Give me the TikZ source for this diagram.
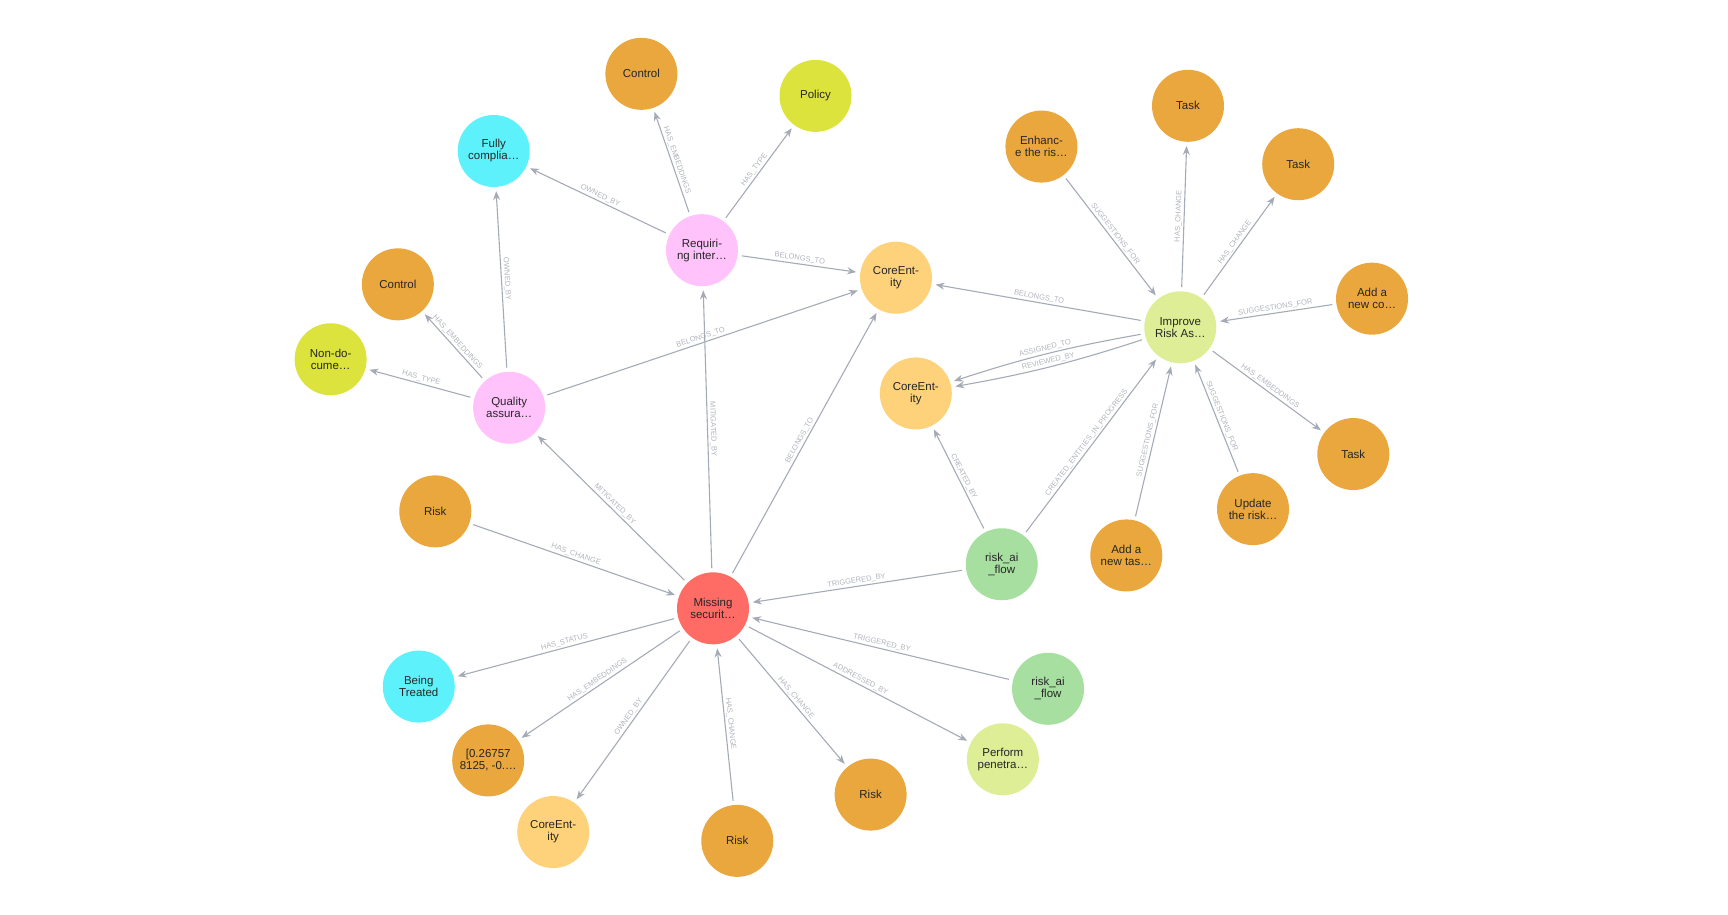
\documentclass[tikz,border=0pt]{standalone}
\usepackage{fontspec}
\setmainfont{Liberation Sans}
\usetikzlibrary{arrows.meta}
\definecolor{corg}{HTML}{E9A73E}
\definecolor{cyel}{HTML}{DCE33C}
\definecolor{ccyan}{HTML}{5DF2FB}
\definecolor{cpink}{HTML}{FFC2FB}
\definecolor{clor}{HTML}{FDD27A}
\definecolor{cred}{HTML}{FF6B65}
\definecolor{clgr}{HTML}{DDEE96}
\definecolor{cgreen}{HTML}{A6DFA0}
\definecolor{cedge}{HTML}{A5ABB6}
\definecolor{clab}{HTML}{B0B4BC}
\tikzset{
 nd/.style={circle,minimum size=72pt,inner sep=0pt,align=center,font=\fontsize{11.5}{12}\selectfont,text=black!85},
 org/.style={nd,fill=corg}, yel/.style={nd,fill=cyel}, cya/.style={nd,fill=ccyan},
 pnk/.style={nd,fill=cpink}, lor/.style={nd,fill=clor}, red/.style={nd,fill=cred},
 lgr/.style={nd,fill=clgr}, grn/.style={nd,fill=cgreen},
 ed/.style={draw=cedge,line width=1.1pt,-{Stealth[length=9pt,width=7pt]},shorten >=4pt,shorten <=4pt},
 lb/.style={midway,sloped,above,inner sep=1.5pt,font=\fontsize{7.5}{8}\selectfont,text=clab}
}
\begin{document}
\begin{tikzpicture}[x=1.102pt,y=-1.102pt]
\useasboundingbox (0,0) rectangle (1568,830);
\node[org] (ctrl1) at (582,67) {Control};
\node[yel] (policy) at (740,87) {Policy};
\node[cya] (fully) at (448,137) {Fully\\complia\dots};
\node[pnk] (req) at (637,227) {Requiri-\\ng inter\dots};
\node[lor] (core1) at (813,252) {CoreEnt-\\ity};
\node[org] (ctrl2) at (361,258) {Control};
\node[yel] (nondoc) at (300,326) {Non-do-\\cume\dots};
\node[pnk] (qa) at (462,370) {Quality\\assura\dots};
\node[org] (risk1) at (395,464) {Risk};
\node[red] (miss) at (647,552) {Missing\\securit\dots};
\node[lor] (core2) at (831,357) {CoreEnt-\\ity};
\node[lgr] (imp) at (1071,297) {Improve\\Risk As\dots};
\node[org] (enh) at (945,133) {Enhanc-\\e the ris\dots};
\node[org] (task1) at (1078,96) {Task};
\node[org] (task2) at (1178,149) {Task};
\node[org] (addnew) at (1245,271) {Add a\\new co\dots};
\node[org] (task3) at (1228,412) {Task};
\node[org] (upd) at (1137,462) {Update\\the risk\dots};
\node[org] (addtask) at (1022,504) {Add a\\new tas\dots};
\node[grn] (flow1) at (909,512) {risk\_ai\\\_flow};
\node[grn] (flow2) at (951,625) {risk\_ai\\\_flow};
\node[lgr] (perf) at (910,689) {Perform\\penetra\dots};
\node[org] (riskB) at (790,721) {Risk};
\node[org] (riskC) at (669,763) {Risk};
\node[lor] (core3) at (502,755) {CoreEnt-\\ity};
\node[org] (emb) at (443,690) {[0.26757\\8125, -0.\dots};
\node[cya] (being) at (380,623) {Being\\Treated};

\draw[ed] (req) -- node[lb]{HAS\_EMBEDDINGS} (ctrl1);
\draw[ed] (req) -- node[lb]{HAS\_TYPE} (policy);
\draw[ed] (req) -- node[lb]{OWNED\_BY} (fully);
\draw[ed] (req) -- node[lb]{BELONGS\_TO} (core1);
\draw[ed] (qa) -- node[lb]{OWNED\_BY} (fully);
\draw[ed] (qa) -- node[lb]{HAS\_EMBEDDINGS} (ctrl2);
\draw[ed] (qa) -- node[lb]{HAS\_TYPE} (nondoc);
\draw[ed] (qa) -- node[lb]{BELONGS\_TO} (core1);
\draw[ed] (miss) -- node[lb]{MITIGATED\_BY} (qa);
\draw[ed] (miss) -- node[lb]{MITIGATED\_BY} (req);
\draw[ed] (miss) -- node[lb]{BELONGS\_TO} (core1);
\draw[ed] (risk1) -- node[lb]{HAS\_CHANGE} (miss);
\draw[ed] (flow1) -- node[lb]{TRIGGERED\_BY} (miss);
\draw[ed] (flow2) -- node[lb]{TRIGGERED\_BY} (miss);
\draw[ed] (miss) -- node[lb]{HAS\_STATUS} (being);
\draw[ed] (miss) -- node[lb]{HAS\_EMBEDDINGS} (emb);
\draw[ed] (miss) -- node[lb]{OWNED\_BY} (core3);
\draw[ed] (riskC) -- node[lb]{HAS\_CHANGE} (miss);
\draw[ed] (miss) -- node[lb]{HAS\_CHANGE} (riskB);
\draw[ed] (miss) -- node[lb]{ADDRESSED\_BY} (perf);
\draw[ed] (flow1) -- node[lb]{CREATED\_BY} (core2);
\draw[ed] (flow1) -- node[lb]{CREATED\_ENTITIES\_IN\_PROGRESS} (imp);
\draw[ed] (imp) -- node[lb]{BELONGS\_TO} (core1);
\draw[ed] (imp) to[bend right=4] node[lb]{ASSIGNED\_TO} (core2);
\draw[ed] (imp) to[bend left=4] node[lb]{REVIEWED\_BY} (core2);
\draw[ed] (enh) -- node[lb]{SUGGESTIONS\_FOR} (imp);
\draw[ed] (imp) -- node[lb]{HAS\_CHANGE} (task1);
\draw[ed] (imp) -- node[lb]{HAS\_CHANGE} (task2);
\draw[ed] (addnew) -- node[lb]{SUGGESTIONS\_FOR} (imp);
\draw[ed] (imp) -- node[lb]{HAS\_EMBEDDINGS} (task3);
\draw[ed] (upd) -- node[lb]{SUGGESTIONS\_FOR} (imp);
\draw[ed] (addtask) -- node[lb]{SUGGESTIONS\_FOR} (imp);
\end{tikzpicture}
\end{document}
